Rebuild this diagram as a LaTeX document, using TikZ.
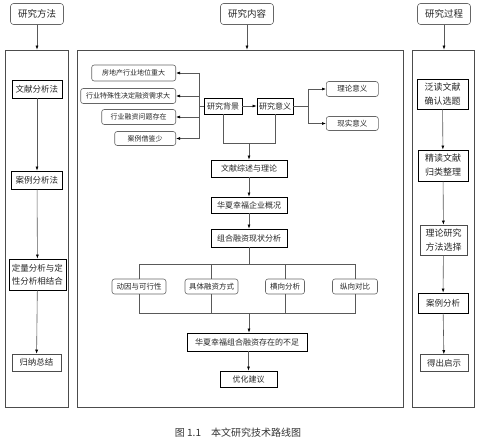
\documentclass[tikz,border=0pt]{standalone}
\usepackage{fontspec}
\newfontfamily\cjk{Noto Sans CJK SC}
\usetikzlibrary{arrows.meta}
\begin{document}
\begin{tikzpicture}[x=1pt,y=-1pt,
  every node/.style={font=\cjk, text=black!85, inner sep=0pt},
  hdr/.style={draw=black!60, rounded corners=3pt, line width=0.6pt, minimum width=53pt, minimum height=21pt, font=\cjk\fontsize{9.5}{11}\selectfont},
  panel/.style={draw=black!70, line width=0.8pt},
  sbox/.style={draw=black, line width=0.9pt, align=center, font=\cjk\fontsize{8.5}{13}\selectfont},
  tbox/.style={draw=black!70, line width=0.6pt, align=center, font=\cjk\fontsize{8.5}{13}\selectfont},
  rbox/.style={draw=black!60, rounded corners=2.5pt, line width=0.6pt, font=\cjk\fontsize{7}{8}\selectfont},
  rboxb/.style={draw=black!60, rounded corners=2.5pt, line width=0.6pt, font=\cjk\fontsize{7.5}{8}\selectfont},
  mbox/.style={draw=black, line width=0.9pt, font=\cjk\fontsize{8}{9}\selectfont},
  ln/.style={draw=black!65, line width=0.6pt},
  arr/.style={draw=black!65, line width=0.6pt, -{Latex[length=4pt,width=3pt,color=black]}}
]
\useasboundingbox (0,0) rectangle (477,444);
% headers
\node[hdr] (hm) at (37,14) {研究方法};
\node[hdr] (hc) at (247,14) {研究内容};
\node[hdr] (hp) at (444,14) {研究过程};
% panels
\node[panel, minimum width=63pt, minimum height=357pt] (pl) at (36.5,228.5) {};
\node[panel, minimum width=326pt, minimum height=357pt] (pm) at (240,228.5) {};
\node[panel, minimum width=62pt, minimum height=357pt] (pr) at (443,228.5) {};
\draw[arr] (hm) -- (hm.south |- pl.north);
\draw[arr] (hc) -- (hc.south |- pm.north);
\draw[arr] (hp) -- (hp.south |- pr.north);
% left column
\node[sbox, minimum width=50pt, minimum height=18pt] (l1) at (37,89) {文献分析法};
\node[sbox, minimum width=51pt, minimum height=18pt] (l2) at (37,180) {案例分析法};
\node[sbox, minimum width=57pt, minimum height=31pt] (l3) at (37.5,274.5) {定量分析与定\\性分析相结合};
\node[tbox, minimum width=49pt, minimum height=17pt] (l4) at (36.5,362.5) {归纳总结};
\draw[arr] (l1) -- (l2);
\draw[arr] (l2) -- (l3);
\draw[arr] (l3) -- (l4);
% right column
\node[sbox, minimum width=51pt, minimum height=30pt, font=\cjk\fontsize{9}{14}\selectfont] (r1) at (442.5,94) {泛读文献\\确认选题};
\node[sbox, minimum width=50pt, minimum height=31pt, font=\cjk\fontsize{9}{14}\selectfont] (r2) at (443,165.5) {精读文献\\归类整理};
\node[tbox, minimum width=47pt, minimum height=30pt, font=\cjk\fontsize{9}{14}\selectfont] (r3) at (443.5,240) {理论研究\\方法选择};
\node[sbox, minimum width=50pt, minimum height=20pt] (r4) at (443,303) {案例分析};
\node[tbox, minimum width=48pt, minimum height=17pt] (r5) at (444,363) {得出启示};
\draw[arr] (r1) -- (r2);
\draw[arr] (r2) -- (r3);
\draw[arr] (r3) -- (r4);
\draw[arr] (r4) -- (r5);
% middle: background
\node[mbox, minimum width=38pt, minimum height=16pt] (bg) at (223,106) {研究背景};
\node[mbox, minimum width=36pt, minimum height=16pt] (yy) at (275,106) {研究意义};
\draw[arr] (bg) -- (yy);
\node[rbox, anchor=east, minimum width=84pt, minimum height=16pt] (f1) at (176,73) {房地产行业地位重大};
\node[rbox, anchor=east, minimum width=95pt, minimum height=15pt] (f2) at (176,96) {行业特殊性决定融资需求大};
\node[rbox, anchor=east, minimum width=74pt, minimum height=15pt] (f3) at (176,117) {行业融资问题存在};
\node[rbox, anchor=east, minimum width=61pt, minimum height=14pt] (f4) at (176,138.5) {案例借鉴少};
\coordinate (busL) at (199,106);
\draw[ln] (bg.west) -- (busL);
\draw[ln] (busL |- f1) -- (busL |- f4);
\draw[arr] (busL |- f1) -- (f1.east);
\draw[arr] (busL |- f2) -- (f2.east);
\draw[arr] (busL |- f3) -- (f3.east);
\draw[arr] (busL |- f4) -- (f4.east);
\node[rboxb, anchor=west, minimum width=52pt, minimum height=15pt] (s1) at (326,89) {理论意义};
\node[rboxb, anchor=west, minimum width=52pt, minimum height=14pt] (s2) at (326,123.5) {现实意义};
\coordinate (busR) at (308,106);
\draw[ln] (yy.east) -- (busR);
\draw[ln] (busR |- s1) -- (busR |- s2);
\draw[arr] (busR |- s1) -- (s1.west);
\draw[arr] (busR |- s2) -- (s2.west);
% middle main chain
\coordinate (j1) at (249,143);
\draw[ln] (bg.south) -- (bg.south |- j1) -- (yy.south |- j1) -- (yy.south);
\node[mbox, minimum width=76pt, minimum height=17pt] (ws) at (249,168.5) {文献综述与理论};
\node[mbox, minimum width=76pt, minimum height=16pt] (hx) at (249,205) {华夏幸福企业概况};
\node[mbox, minimum width=76pt, minimum height=18pt] (zh) at (249,238) {组合融资现状分析};
\draw[arr] (j1) -- (ws.north);
\draw[arr] (ws) -- (hx);
\draw[arr] (hx) -- (zh);
% analysis row
\node[rboxb, minimum width=54pt, minimum height=15pt] (b1) at (139,286.5) {动因与可行性};
\node[rboxb, minimum width=53pt, minimum height=15pt] (b2) at (211.5,286.5) {具体融资方式};
\node[rboxb, minimum width=39pt, minimum height=15pt] (b3) at (285,286.5) {横向分析};
\node[rboxb, minimum width=45pt, minimum height=15pt] (b4) at (355,286.5) {纵向对比};
\coordinate (t1) at (249,264.5);
\draw[ln] (zh.south) -- (t1);
\draw[ln] (b1.north) -- (b1.north |- t1) -- (b4.north |- t1) -- (b4.north);
\draw[ln] (b2.north) -- (b2.north |- t1);
\draw[ln] (b3.north) -- (b3.north |- t1);
\coordinate (t2) at (249,313);
\draw[ln] (b1.south) -- (b1.south |- t2) -- (b4.south |- t2) -- (b4.south);
\draw[ln] (b2.south) -- (b2.south |- t2);
\draw[ln] (b3.south) -- (b3.south |- t2);
\node[mbox, minimum width=120pt, minimum height=18pt] (bz) at (247,342) {华夏幸福组合融资存在的不足};
\node[mbox, minimum width=57pt, minimum height=16pt] (yh) at (248.5,379) {优化建议};
\draw[arr] (t2) -- (t2 |- bz.north);
\draw[arr] (bz.south -| yh) -- (yh.north);
% caption
\node[font=\cjk\fontsize{10}{12}\selectfont, text=black!80] (cap) at (238,433) {图 1.1\quad 本文研究技术路线图};
\end{tikzpicture}
\end{document}
